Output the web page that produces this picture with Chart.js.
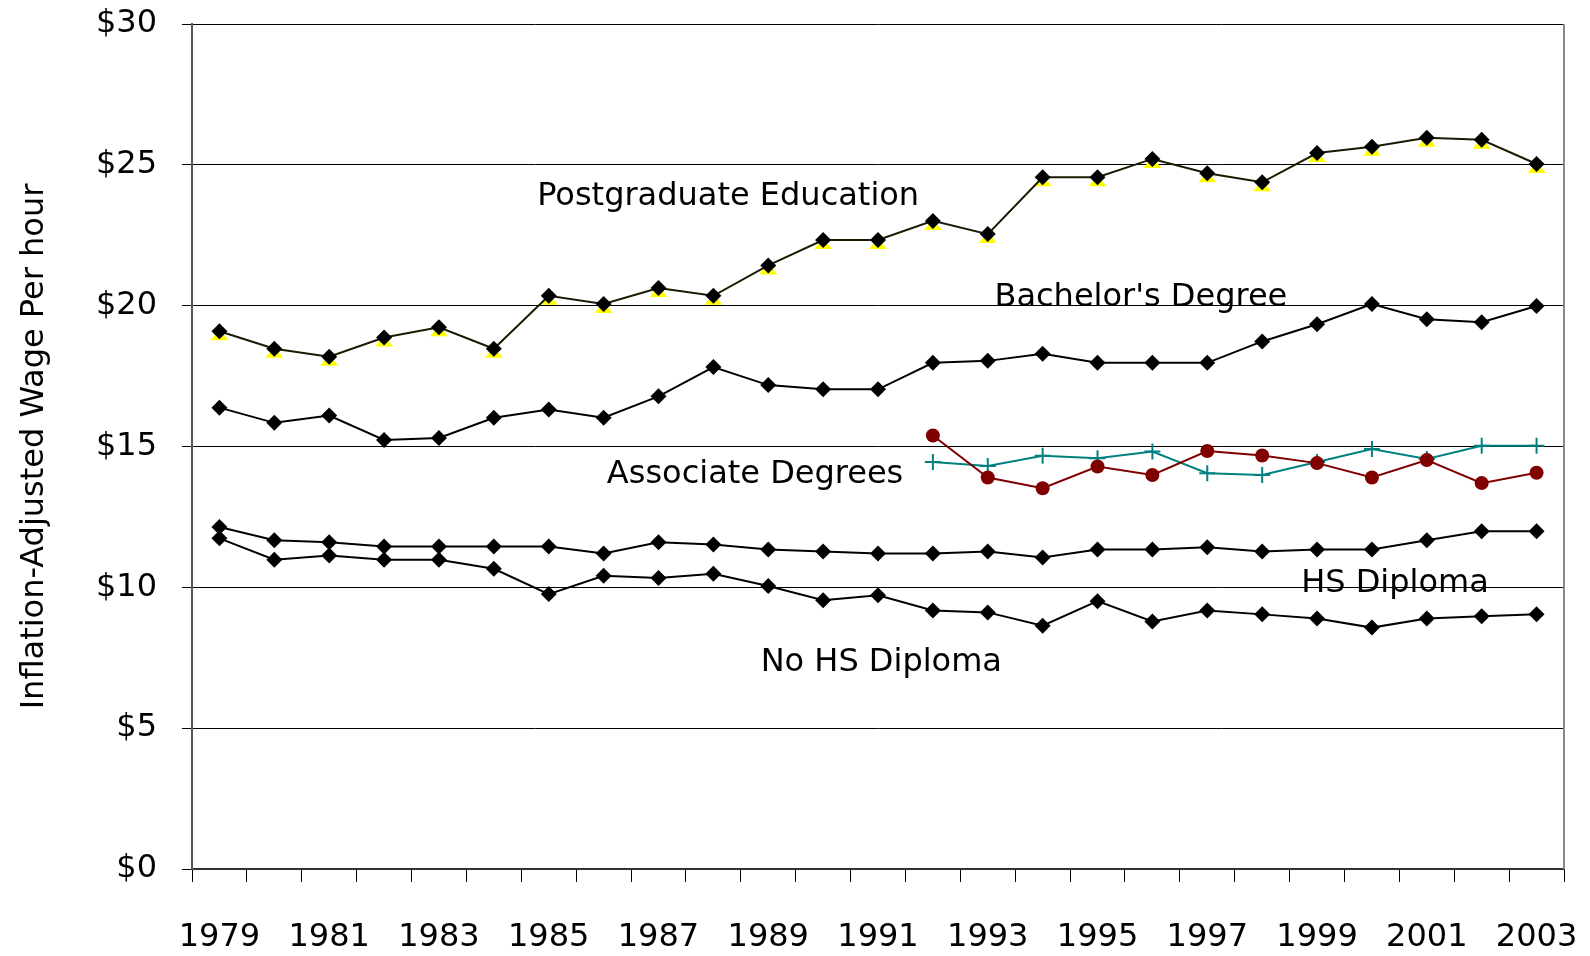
<!DOCTYPE html>
<html>
<head>
<meta charset="utf-8">
<script src="https://cdn.jsdelivr.net/npm/chart.js@4"></script>
<style>
  html, body { margin: 0; padding: 0; background: #fff; }
  #wrap { width: 1590px; height: 956px; }
</style>
</head>
<body>
<div id="wrap"><canvas id="wageChart"></canvas></div>
<script>
const years = ['1979','1980','1981','1982','1983','1984','1985','1986','1987','1988','1989','1990','1991',
  '1992','1993','1994','1995','1996','1997','1998','1999','2000','2001','2002','2003'];

const postgrad = [19.09, 18.47, 18.19, 18.87, 19.23, 18.47, 20.35, 20.06, 20.63, 20.35, 21.43, 22.33, 22.33,
  23.01, 22.54, 24.56, 24.56, 25.21, 24.70, 24.38, 25.42, 25.64, 25.96, 25.89, 25.03];
const bachelors = [16.38, 15.84, 16.10, 15.23, 15.30, 16.02, 16.31, 16.02, 16.78, 17.82, 17.18, 17.03, 17.03,
  17.97, 18.04, 18.29, 17.97, 17.97, 17.97, 18.73, 19.34, 20.06, 19.52, 19.41, 19.99];
const associateA = [null, null, null, null, null, null, null, null, null, null, null, null, null,
  15.39, 13.90, 13.52, 14.29, 13.99, 14.84, 14.68, 14.41, 13.90, 14.52, 13.70, 14.07];
const associateB = [null, null, null, null, null, null, null, null, null, null, null, null, null,
  14.45, 14.31, 14.67, 14.58, 14.82, 14.05, 13.99, 14.45, 14.91, 14.56, 15.03, 15.03];
const hsDiploma = [12.14, 11.67, 11.60, 11.45, 11.45, 11.45, 11.45, 11.20, 11.60, 11.52, 11.34, 11.27, 11.20,
  11.20, 11.27, 11.06, 11.34, 11.34, 11.42, 11.27, 11.34, 11.34, 11.67, 11.99, 11.99];
const noHsDiploma = [11.74, 10.98, 11.13, 10.98, 10.98, 10.66, 9.76, 10.41, 10.33, 10.48, 10.05, 9.54, 9.72,
  9.18, 9.11, 8.64, 9.51, 8.79, 9.18, 9.04, 8.89, 8.57, 8.89, 8.97, 9.04];

// labels written inside the plot (x = category index, y = dollars)
const seriesLabels = [
  { text: 'Postgraduate Education', x: 9.27, y: 23.87 },
  { text: "Bachelor's Degree", x: 16.79, y: 20.27 },
  { text: 'Associate Degrees', x: 9.76, y: 14.00 },
  { text: 'HS Diploma', x: 21.42, y: 10.13 },
  { text: 'No HS Diploma', x: 12.06, y: 7.32 }
];

const FONT = "'DejaVu Sans', sans-serif";

const extras = {
  id: 'extras',
  beforeDatasetDraw(chart, args) {
    // yellow shadow triangles under postgraduate markers
    if (args.index !== 0) return;
    const ctx = chart.ctx;
    ctx.save();
    ctx.fillStyle = '#ffff00';
    args.meta.data.forEach(pt => {
      ctx.beginPath();
      ctx.moveTo(pt.x, pt.y - 2);
      ctx.lineTo(pt.x + 9, pt.y + 9);
      ctx.lineTo(pt.x - 9, pt.y + 9);
      ctx.closePath();
      ctx.fill();
    });
    ctx.restore();
  },
  afterDraw(chart) {
    const { ctx, chartArea, scales } = chart;
    ctx.save();
    // right frame line
    ctx.strokeStyle = '#888';
    ctx.lineWidth = 2;
    ctx.beginPath();
    ctx.moveTo(chartArea.right, chartArea.top);
    ctx.lineTo(chartArea.right, chartArea.bottom);
    ctx.stroke();
    // series labels
    ctx.fillStyle = '#000';
    ctx.font = '32px ' + FONT;
    ctx.textAlign = 'center';
    ctx.textBaseline = 'middle';
    seriesLabels.forEach(l => {
      ctx.fillText(l.text, scales.x.getPixelForValue(l.x), scales.y.getPixelForValue(l.y));
    });
    ctx.restore();
  }
};

function blackLine(data) {
  return {
    data: data,
    borderColor: '#000',
    backgroundColor: '#000',
    borderWidth: 2,
    pointStyle: 'rectRot',
    pointRadius: 8,
    pointBorderWidth: 0,
    tension: 0
  };
}

function noOverhang(scale) {
  scale.paddingTop = 0;
  scale.paddingBottom = 0;
  scale.paddingLeft = 0;
  scale.paddingRight = 0;
}

new Chart(document.getElementById('wageChart'), {
  type: 'line',
  data: {
    labels: years,
    datasets: [
      Object.assign(blackLine(postgrad), { borderColor: '#1a1a00' }),
      blackLine(bachelors),
      {
        data: associateA,
        borderColor: '#800000',
        backgroundColor: '#800000',
        borderWidth: 2,
        pointStyle: 'circle',
        pointRadius: 7,
        pointBorderWidth: 0
      },
      {
        data: associateB,
        borderColor: '#008080',
        backgroundColor: '#008080',
        borderWidth: 2,
        pointStyle: 'cross',
        pointRadius: 8,
        pointBorderWidth: 2
      },
      blackLine(hsDiploma),
      blackLine(noHsDiploma)
    ]
  },
  options: {
    responsive: true,
    maintainAspectRatio: false,
    animation: false,
    layout: { padding: { top: 24, right: 26, left: 0, bottom: 0 } },
    plugins: {
      legend: { display: false },
      tooltip: { enabled: false }
    },
    scales: {
      x: {
        offset: true,
        grid: {
          offset: true,
          drawOnChartArea: false,
          color: '#000',
          tickLength: 13
        },
        border: { color: '#333', width: 2 },
        ticks: {
          autoSkip: false,
          maxRotation: 0,
          padding: 36,
          color: '#000',
          font: { family: FONT, size: 32 },
          callback: function (v, i) { return i % 2 === 0 ? years[i] : ''; }
        },
        afterFit(scale) { scale.height = 87; noOverhang(scale); }
      },
      y: {
        min: 0,
        max: 30,
        ticks: {
          stepSize: 5,
          padding: 25,
          color: '#000',
          font: { family: FONT, size: 32 },
          callback: v => '$' + v
        },
        grid: { color: '#000', lineWidth: 1, tickLength: 10 },
        border: { color: '#555', width: 2 },
        title: {
          display: true,
          text: 'Inflation-Adjusted Wage Per hour',
          color: '#000',
          font: { family: FONT, size: 32 },
          padding: { top: 15, bottom: 10 }
        },
        afterFit(scale) { scale.width = 192; noOverhang(scale); }
      }
    }
  },
  plugins: [extras]
});
</script>
</body>
</html>
